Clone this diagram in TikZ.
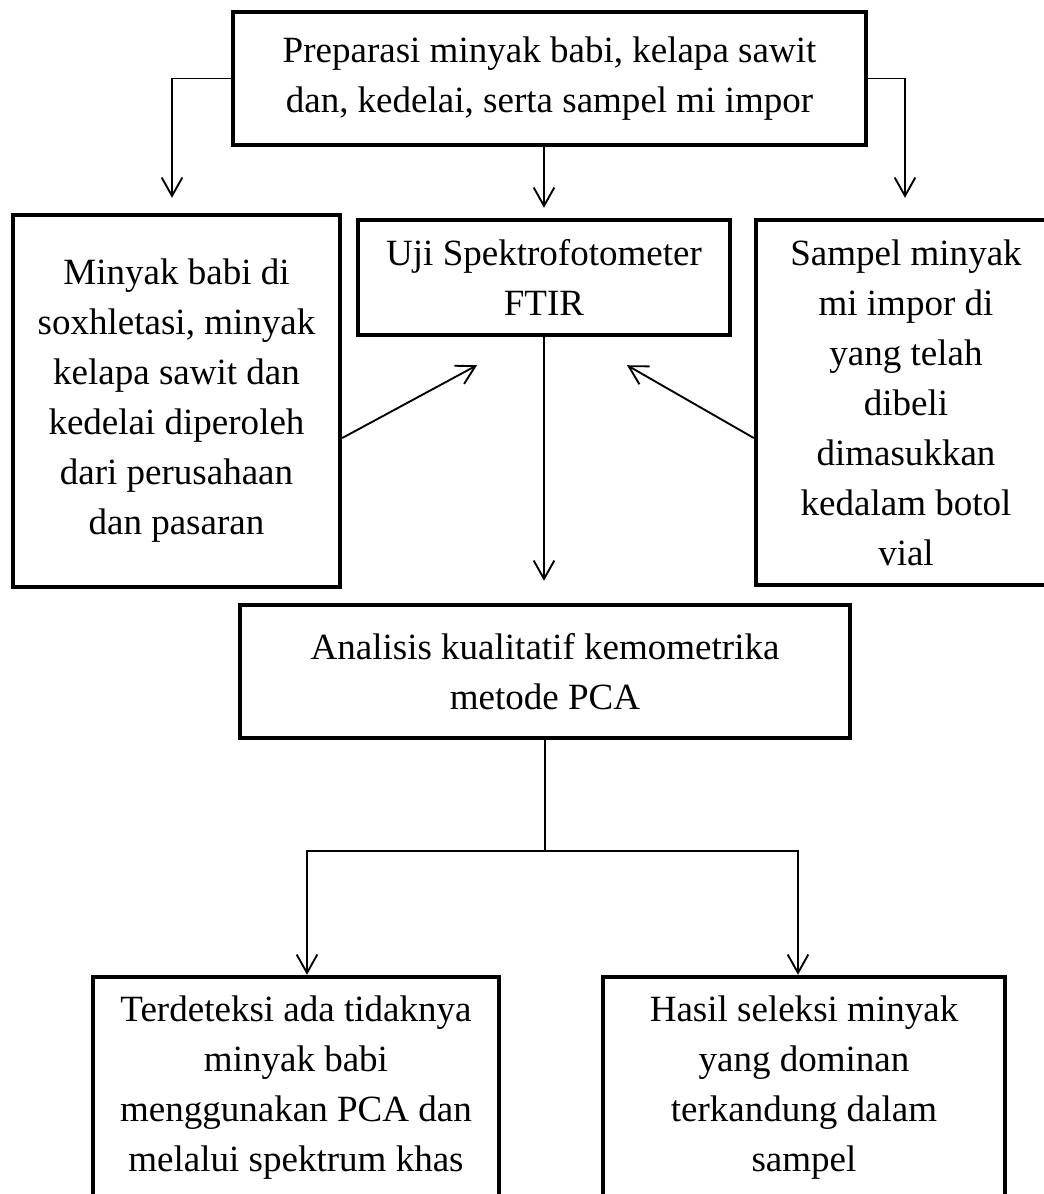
\documentclass[tikz,border=0pt]{standalone}
\usepackage{fontspec}
\setmainfont{Liberation Serif}
\usetikzlibrary{arrows.meta, positioning, calc}
\tikzstyle{box}=[rectangle, draw=black, line width=3.8pt, inner sep=0pt, align=center, font=\fontsize{31.6pt}{42.7pt}\selectfont]
\tikzstyle{arrow}=[line width=1.6pt, -{Straight Barb[length=0.55cm, width=0.62cm]}]
\tikzstyle{line}=[line width=1.6pt]

\begin{document}
\begin{tikzpicture}[x=0.03cm, y=-0.03cm]
    \useasboundingbox (0,0) rectangle (1044,1194);
    \node[box, minimum width=18.99cm, minimum height=3.99cm] (prep) at (549.5,78.5) {Preparasi minyak babi, kelapa sawit\\ dan, kedelai, serta sampel mi impor};
    \node[box, minimum width=9.81cm, minimum height=11.16cm] (soxh) at (176.5,401) {Minyak babi di\\ soxhletasi, minyak\\ kelapa sawit dan\\ kedelai diperoleh\\ dari perusahaan\\ dan pasaran};
    \node[box, minimum width=11.16cm, minimum height=3.45cm] (ftir) at (544,277.5) {Uji Spektrofotometer\\ FTIR};
    \node[box, minimum width=9cm, minimum height=10.95cm] (sampel) at (906,402.5) {Sampel minyak\\ mi impor di\\ yang telah\\ dibeli\\ dimasukkan\\ kedalam botol\\ vial};
    \node[box, minimum width=18.3cm, minimum height=3.99cm] (pca) at (545,671.5) {Analisis kualitatif kemometrika\\ metode PCA};
    \node[box, minimum width=12.18cm, minimum height=6.66cm] (det) at (296,1088) {Terdeteksi ada tidaknya\\ minyak babi\\ menggunakan PCA dan\\ melalui spektrum khas};
    \node[box, minimum width=12.06cm, minimum height=6.66cm] (hasil) at (804,1088) {Hasil seleksi minyak\\ yang dominan\\ terkandung dalam\\ sampel};
    \coordinate[below=3.33cm of pca.south] (split);

    \draw[arrow, shorten >=0.45cm] (prep.west) -| ([xshift=-0.135cm]soxh.north);
    \draw[arrow, shorten >=0.6cm] (prep.east) -| ([xshift=-0.03cm]sampel.north);
    \draw[arrow, shorten >=0.3cm] (prep.south -| ftir.north) -- (ftir.north);
    \draw[arrow] ([yshift=-1.11cm]soxh.east) -- ([shift={(-67,28)}]ftir.south);
    \draw[arrow] ([yshift=-1.065cm]sampel.west) -- ([shift={(83,28)}]ftir.south);
    \draw[arrow, shorten >=0.66cm] (ftir.south) -- (ftir.south |- pca.north);
    \draw[line] (pca.south) -- (split);
    \draw[arrow] (split) -| ([xshift=0.33cm]det.north);
    \draw[arrow] (split) -| ([xshift=-0.18cm]hasil.north);
\end{tikzpicture}
\end{document}
